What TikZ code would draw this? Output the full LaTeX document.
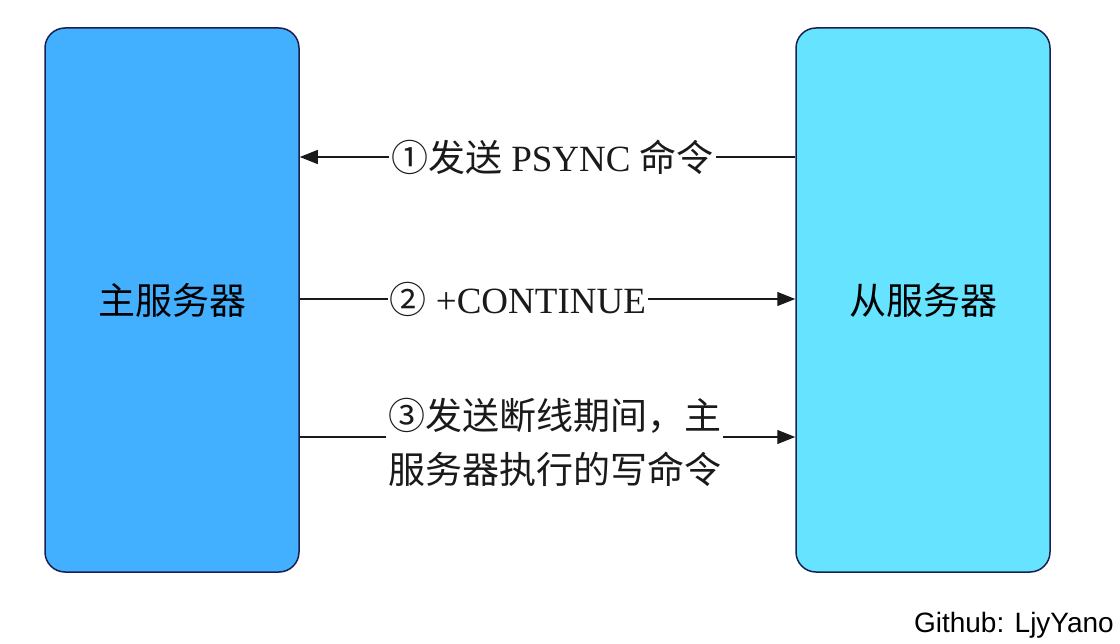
\documentclass[tikz,border=0pt]{standalone}
\usepackage{fontspec}
\setmainfont{Liberation Serif}
\newfontfamily\cjk{Noto Sans CJK SC}
\newfontfamily\ghfont{Liberation Sans}
\usetikzlibrary{arrows.meta}
\definecolor{mastercol}{HTML}{42B0FF}
\definecolor{slavecol}{HTML}{66E3FF}
\definecolor{bordercol}{HTML}{1A2050}
\definecolor{linecol}{HTML}{1A1A1A}
\begin{document}
\begin{tikzpicture}[x=1pt,y=-1pt,
  serverbox/.style={draw=bordercol, line width=1.5pt, rounded corners=20pt,
    minimum width=254pt, minimum height=544pt, inner sep=0pt,
    font=\cjk\fontsize{37}{44}\selectfont, text=black},
  arr/.style={draw=linecol, line width=1.4pt, -{Triangle[length=18pt,width=14pt]}},
  lbl/.style={fill=white, inner sep=2pt, text=linecol, font=\fontsize{37}{54}\selectfont}]
\useasboundingbox (0,0) rectangle (1120,644);
\node[serverbox, fill=mastercol] (M) at (172,300) {主服务器};
\node[serverbox, fill=slavecol] (S) at (923,300) {从服务器};
\coordinate (y1) at (0,157);
\coordinate (y2) at (0,299);
\coordinate (y3) at (0,437);
\draw[arr] (S.west |- y1) -- node[lbl, pos=0.49] (t1) {{\cjk ①发送} PSYNC {\cjk 命令}} (M.east |- y1);
\draw[arr] (M.east |- y2) -- node[lbl, pos=0.44] (t2) {{\cjk ②} +CONTINUE} (S.west |- y2);
\draw[arr] (M.east |- y3) -- (S.west |- y3);
\node[lbl, anchor=west, align=left, font=\cjk\fontsize{37}{54}\selectfont] (t3) at (386,442) {③发送断线期间，主\\服务器执行的写命令};
\node[anchor=base east, inner sep=0pt, font=\ghfont\fontsize{28}{30}\selectfont] (gh) at (1114,632) {Github: LjyYano};
\end{tikzpicture}
\end{document}
